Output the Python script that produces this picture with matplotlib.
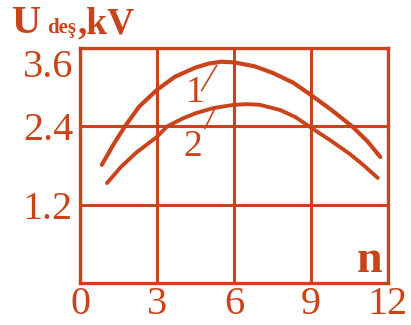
import matplotlib
matplotlib.use("Agg")
import matplotlib.pyplot as plt
import matplotlib.transforms as mtransforms

# curve 1 and curve 2: discharge voltage vs n
n1 = [0.85, 1.3, 1.75, 2.3, 3.0, 3.7, 4.5, 5.0, 5.5, 6.0, 6.8, 7.5, 8.3, 9.0, 9.8, 10.6, 11.2, 11.7]
u1 = [1.81, 2.12, 2.40, 2.70, 2.96, 3.16, 3.30, 3.36, 3.39, 3.38, 3.32, 3.22, 3.07, 2.88, 2.65, 2.40, 2.17, 1.93]
n2 = [1.05, 1.6, 2.2, 3.0, 3.4, 4.0, 4.5, 5.2, 6.0, 6.5, 7.0, 7.8, 8.4, 9.0, 9.7, 10.5, 11.0, 11.6]
u2 = [1.53, 1.78, 2.00, 2.24, 2.40, 2.52, 2.60, 2.68, 2.73, 2.74, 2.73, 2.65, 2.54, 2.38, 2.20, 1.98, 1.82, 1.61]

xticks = [0, 3, 6, 9, 12]
yticks = [1.2, 2.4, 3.6]
ytick_labels = ["1.2", "2.4", "3.6"]

col = "#c9441b"
serif = "Liberation Serif"

fig = plt.figure(figsize=(4.11, 3.25), dpi=100)
ax = fig.add_axes([80/411, 1-283/325, 308/411, 235/325])

ax.set_xlim(0, 12)
ax.set_ylim(0, 3.6)
ax.set_xticks(xticks)
ax.set_yticks(yticks)
ax.set_yticklabels(ytick_labels)
ax.tick_params(length=0, colors=col, labelsize=29)
ax.tick_params(axis="x", pad=2)
ax.tick_params(axis="y", pad=5)
for lab in ax.get_xticklabels() + ax.get_yticklabels():
    lab.set_fontfamily(serif)
ax.grid(True, color=col, lw=2.2)
for s in ax.spines.values():
    s.set_color(col)
    s.set_linewidth(2.4)

# push the top label down a little so it clears the title
top = ax.get_yticklabels()[-1]
top.set_transform(top.get_transform() + mtransforms.ScaledTranslation(0, -15/100, fig.dpi_scale_trans))

ax.plot(n1, u1, color=col, lw=3.0, solid_capstyle="round", clip_on=False)
ax.plot(n2, u2, color=col, lw=2.8, solid_capstyle="round", clip_on=False)

# curve labels with leader lines
ax.text(4.48, 2.91, "1", color=col, fontsize=27, family=serif, ha="center", va="center")
ax.plot([4.74, 5.32], [2.95, 3.33], color=col, lw=1.2)
ax.text(4.4, 2.08, "2", color=col, fontsize=27, family=serif, ha="center", va="center")
ax.plot([4.87, 5.26], [2.37, 2.68], color=col, lw=1.2)

ax.text(11.3, 0.33, "n", color=col, fontsize=33, family=serif, weight="bold",
        ha="center", va="center")

# axis title: U_deş,kV
base = 1 - 33/325
fig.text(12/411, base, "U", color=col, fontsize=29, family=serif, weight="bold",
         va="baseline")
fig.text(47/411, base, "deş", color=col, fontsize=15, family=serif, weight="bold",
         va="baseline")
fig.text(78/411, base, ",kV", color=col, fontsize=27, family=serif, weight="bold",
         va="baseline")

fig.savefig("out.png", dpi=100)
